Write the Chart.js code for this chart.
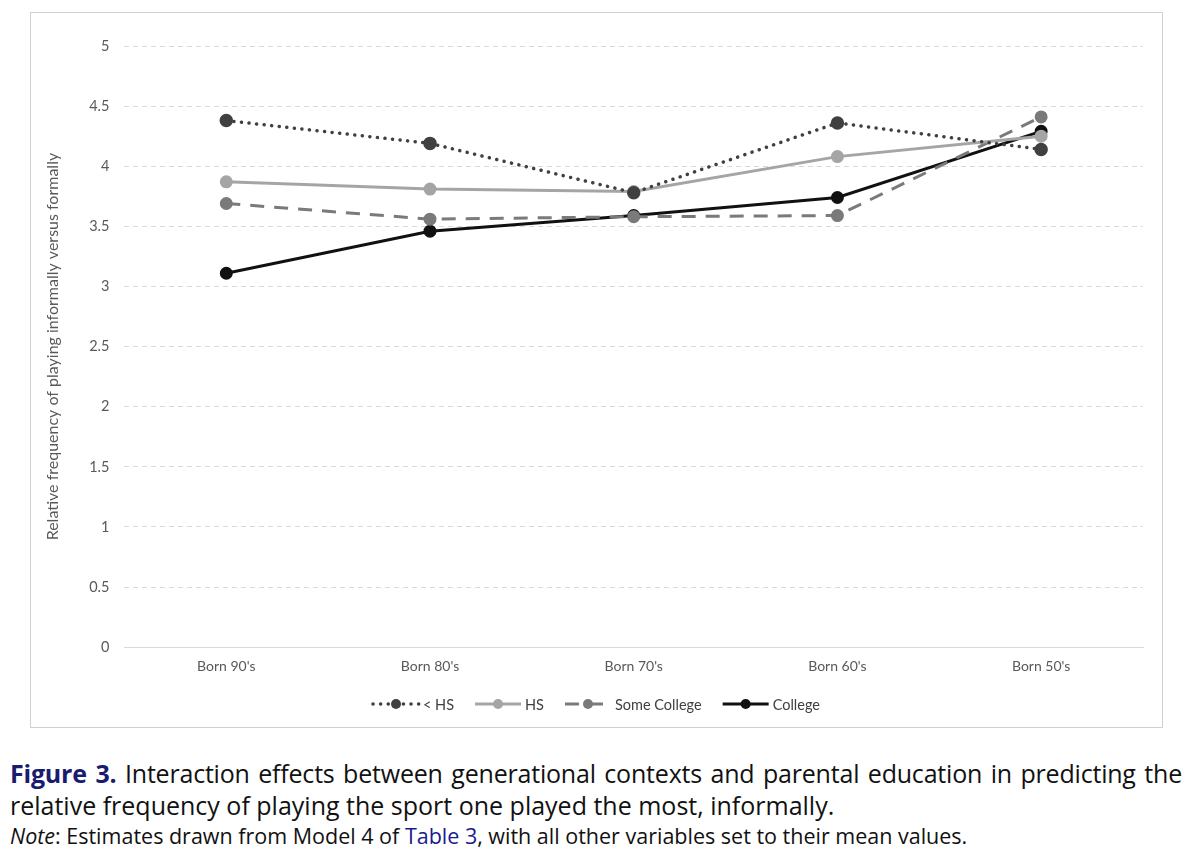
<!DOCTYPE html>
<html>
<head>
<meta charset="utf-8">
<script src="https://cdn.jsdelivr.net/npm/chart.js@4/dist/chart.umd.min.js"></script>
<style>
  body { margin: 0; background: #fff; width: 1198px; height: 856px; overflow: hidden; }
  #box { position: absolute; left: 30px; top: 12px; width: 1131px; height: 714px; border: 1px solid #d0d0d0; }
  #caption { position: absolute; left: 10px; top: 757px; width: 1172px; font-family: "Open Sans", sans-serif; color: #111; }
  #caption p { margin: 0; }
  .main { font-size: 25px; line-height: 32px; }
  .line1 { text-align: justify; text-align-last: justify; white-space: nowrap; letter-spacing: -0.2px; }
  .fig { color: #1a1a6e; font-weight: bold; }
  .note { font-size: 21.5px; line-height: 30px; }
  .note a { color: #1a1a8e; text-decoration: none; }
</style>
</head>
<body>
<div id="box"><canvas id="chart"></canvas></div>
<div id="caption">
  <p class="main line1"><span class="fig">Figure 3.</span> Interaction effects between generational contexts and parental education in predicting the</p>
  <p class="main">relative frequency of playing the sport one played the most, informally.</p>
  <p class="note"><i>Note</i>: Estimates drawn from Model 4 of <a>Table 3</a>, with all other variables set to their mean values.</p>
</div>
<script>
// Data
const generations = ["Born 90's", "Born 80's", "Born 70's", "Born 60's", "Born 50's"];
const lessThanHS = [4.38, 4.19, 3.78, 4.36, 4.14];
const highSchool = [3.87, 3.81, 3.79, 4.08, 4.25];
const someCollege = [3.69, 3.56, 3.58, 3.59, 4.41];
const college = [3.11, 3.46, 3.59, 3.74, 4.29];
const yTicks = [0, 0.5, 1, 1.5, 2, 2.5, 3, 3.5, 4, 4.5, 5];

function makeSeries(label, data, color, dash, width, cap) {
  return {
    label: label,
    data: data,
    borderColor: color,
    backgroundColor: color,
    pointBackgroundColor: color,
    pointBorderColor: color,
    borderDash: dash,
    borderCapStyle: cap || "butt",
    borderWidth: width,
    pointRadius: 5,
    pointHoverRadius: 5,
    tension: 0,
  };
}

// Draws the legend (line + marker, like the Excel original) under the x labels
const lineLegend = {
  id: "lineLegend",
  afterDraw(chart) {
    const ctx = chart.ctx;
    const y = chart.height - 23;
    const items = chart.data.datasets;
    const lineLen = 46;
    const gap = 4;
    const spacing = 21;
    ctx.save();
    ctx.font = "14.5px Lato, sans-serif";
    let total = 0;
    items.forEach((ds) => { total += lineLen + gap + ctx.measureText(ds.label).width + spacing; });
    total -= spacing;
    let x = (chart.width - total) / 2;
    items.forEach((ds) => {
      ctx.strokeStyle = ds.borderColor;
      ctx.lineWidth = ds.borderWidth;
      ctx.lineCap = ds.borderCapStyle;
      ctx.setLineDash(ds.borderDash || []);
      ctx.beginPath();
      ctx.moveTo(x, y);
      ctx.lineTo(x + lineLen, y);
      ctx.stroke();
      ctx.setLineDash([]);
      ctx.fillStyle = ds.borderColor;
      ctx.beginPath();
      ctx.arc(x + lineLen / 2, y, 5, 0, Math.PI * 2);
      ctx.fill();
      ctx.fillStyle = "#404040";
      ctx.textBaseline = "middle";
      ctx.fillText(ds.label, x + lineLen + gap, y + 1);
      x += lineLen + gap + ctx.measureText(ds.label).width + spacing;
    });
    ctx.restore();
  },
};

const ctx = document.getElementById("chart").getContext("2d");
new Chart(ctx, {
  type: "line",
  data: {
    labels: generations,
    datasets: [
      makeSeries("< HS", lessThanHS, "#404040", [0.1, 7.5], 3.5, "round"),
      makeSeries("HS", highSchool, "#a5a5a5", [], 3),
      makeSeries("Some College", someCollege, "#7a7a7a", [14, 10], 3),
      makeSeries("College", college, "#111111", [], 3),
    ],
  },
  options: {
    responsive: true,
    maintainAspectRatio: false,
    animation: false,
    layout: { padding: { left: 8, right: 19, top: 33, bottom: 41 } },
    plugins: {
      legend: { display: false },
      tooltip: { enabled: false },
    },
    scales: {
      x: {
        offset: true,
        grid: { display: false, drawTicks: false },
        border: { display: true, color: "#d9d9d9", width: 1 },
        ticks: { color: "#595959", font: { family: "Lato, sans-serif", size: 14 }, padding: 11 },
      },
      y: {
        min: 0,
        max: 5,
        afterBuildTicks(axis) { axis.ticks = yTicks.map((v) => ({ value: v })); },
        grid: { color: "#d9d9d9", drawTicks: false },
        border: { display: false, dash: [5, 4] },
        ticks: {
          color: "#595959",
          font: { family: "Lato, sans-serif", size: 14.5 },
          padding: 15,
          callback: (v) => String(v),
        },
        title: {
          display: true,
          text: "Relative frequency of playing informally versus formally",
          color: "#595959",
          font: { family: "Lato, sans-serif", size: 16 },
          padding: { bottom: 12 },
        },
      },
    },
  },
  plugins: [lineLegend],
});
</script>
</body>
</html>
